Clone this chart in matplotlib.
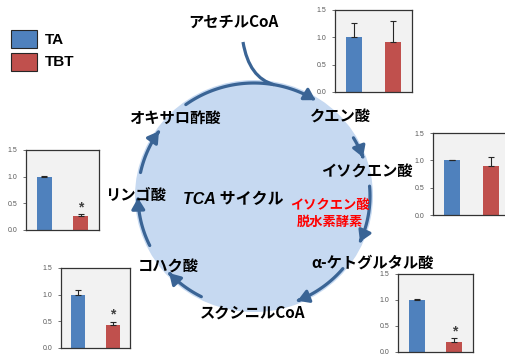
import numpy as np
import matplotlib
matplotlib.use('Agg')
import matplotlib.pyplot as plt
from matplotlib.patches import Ellipse, FancyArrowPatch, PathPatch, Rectangle, ArrowStyle
from matplotlib.path import Path

plt.rcParams['font.family'] = ['Noto Sans CJK JP', 'DejaVu Sans']

# bar data (relative amounts, TA = 1)
groups = ['TA', 'TBT']
bar_colors = ['#4f81bd', '#c0504d']

citrate_vals = [1.00, 0.91]
citrate_err = [0.26, 0.39]
icdh_vals = [1.00, 0.90]
icdh_err = [0.01, 0.17]
malate_vals = [1.00, 0.27]
malate_err = [0.02, 0.03]
succinate_vals = [1.00, 0.44]
succinate_err = [0.09, 0.05]
akg_vals = [1.00, 0.19]
akg_err = [0.01, 0.07]

yticks = [0.0, 0.5, 1.0, 1.5]
ytick_labels = ['0.0', '0.5', '1.0', '1.5']

W, H = 505, 354
fig = plt.figure(figsize=(W / 100, H / 100), dpi=100)
ax = fig.add_axes([0, 0, 1, 1])
ax.set_xlim(0, W)
ax.set_ylim(H, 0)
ax.axis('off')

# cycle circle
cx, cy = 254, 196
ax.add_patch(Ellipse((cx, cy), 2 * 119, 2 * 116, facecolor='#c6d9f1', edgecolor='none', zorder=1))

arrow_col = '#3a6495'
rx, ry = 116, 113


def arc(a0, a1):
    t = np.radians(np.linspace(a0, a1, 60))
    return np.column_stack([cx + rx * np.cos(t), cy - ry * np.sin(t)])


arcs = [(126, 58), (31, 20), (5, -24), (-40, -68), (-117, -137), (-154, -179), (168, 145)]
style = ArrowStyle('-|>', head_length=0.5, head_width=0.3)
for a0, a1 in arcs:
    p = FancyArrowPatch(path=Path(arc(a0, a1)), arrowstyle=style, mutation_scale=13,
                        color=arrow_col, lw=2.3, zorder=2)
    ax.add_patch(p)

# acetyl-CoA entry line
ent = Path([(243, 42), (249, 78), (cx + rx * np.cos(np.radians(80)), cy - ry * np.sin(np.radians(80)))],
           [Path.MOVETO, Path.CURVE3, Path.CURVE3])
ax.add_patch(PathPatch(ent, fill=False, edgecolor=arrow_col, lw=2.3, zorder=2))

# labels
labels = [
    ('アセチルCoA', 233, 22),
    ('クエン酸', 340, 117),
    ('イソクエン酸', 367, 172),
    ('α-ケトグルタル酸', 373, 263),
    ('スクシニルCoA', 253, 313),
    ('コハク酸', 168, 267),
    ('リンゴ酸', 136, 195),
    ('オキサロ酢酸', 175, 118),
]
for s, x, y in labels:
    ax.text(x, y, s, ha='center', va='center', fontsize=11, fontweight='bold', zorder=4)

ax.text(233, 200, 'TCA サイクル', ha='center', va='center', fontsize=11.5, fontweight='bold',
        style='italic', family=['Liberation Sans', 'Noto Sans CJK JP'], zorder=4)
ax.text(330, 205, 'イソクエン酸', ha='center', va='center', fontsize=9.5, fontweight='bold', color='#ff0000', zorder=4)
ax.text(330, 222, '脱水素酵素', ha='center', va='center', fontsize=9.5, fontweight='bold', color='#ff0000', zorder=4)

# legend
for i, (g, c) in enumerate(zip(groups, bar_colors)):
    y0 = 30 + i * 22.5
    ax.add_patch(Rectangle((10.5, y0), 26.5, 18, facecolor=c, edgecolor='#262626', lw=0.8, zorder=4))
    ax.text(45, y0 + 10, g, ha='left', va='center', fontsize=11, fontweight='bold',
            family='Liberation Sans', zorder=4)


def inset(box, vals, errs, star):
    l, t, r, b = box
    a = fig.add_axes([l / W, 1 - b / H, (r - l) / W, (b - t) / H])
    x = np.arange(len(groups)) + 0.5
    a.bar(x, vals, width=0.42, color=bar_colors, zorder=2)
    a.errorbar(x, vals, yerr=[np.zeros(len(vals)), errs], fmt='none', ecolor='#262626',
               elinewidth=0.8, capsize=2, capthick=0.8, zorder=3)
    a.set_xlim(0, 2)
    a.set_ylim(0, 1.5)
    a.set_yticks(yticks)
    a.set_yticklabels(ytick_labels, family='Liberation Sans')
    a.set_xticks([])
    a.set_facecolor('#f2f2f2')
    a.tick_params(axis='y', length=2, width=0.6, color='#595959', labelsize=5,
                  labelcolor='#595959', pad=4)
    for sp in a.spines.values():
        sp.set_color('#333333')
        sp.set_linewidth(0.9)
    if star:
        a.text(x[1], vals[1] + errs[1] + 0.13, '*', ha='center', va='center', fontsize=10,
               fontweight='bold', color='#404040', family='Liberation Sans', zorder=4)
    return a


inset((335, 10, 412, 92), citrate_vals, citrate_err, False)
inset((433, 133, 510, 215), icdh_vals, icdh_err, False)
inset((26, 150, 99, 230), malate_vals, malate_err, True)
inset((61, 268, 130, 348), succinate_vals, succinate_err, True)
inset((398, 274, 473, 352), akg_vals, akg_err, True)

plt.savefig('out.png', dpi=100)
